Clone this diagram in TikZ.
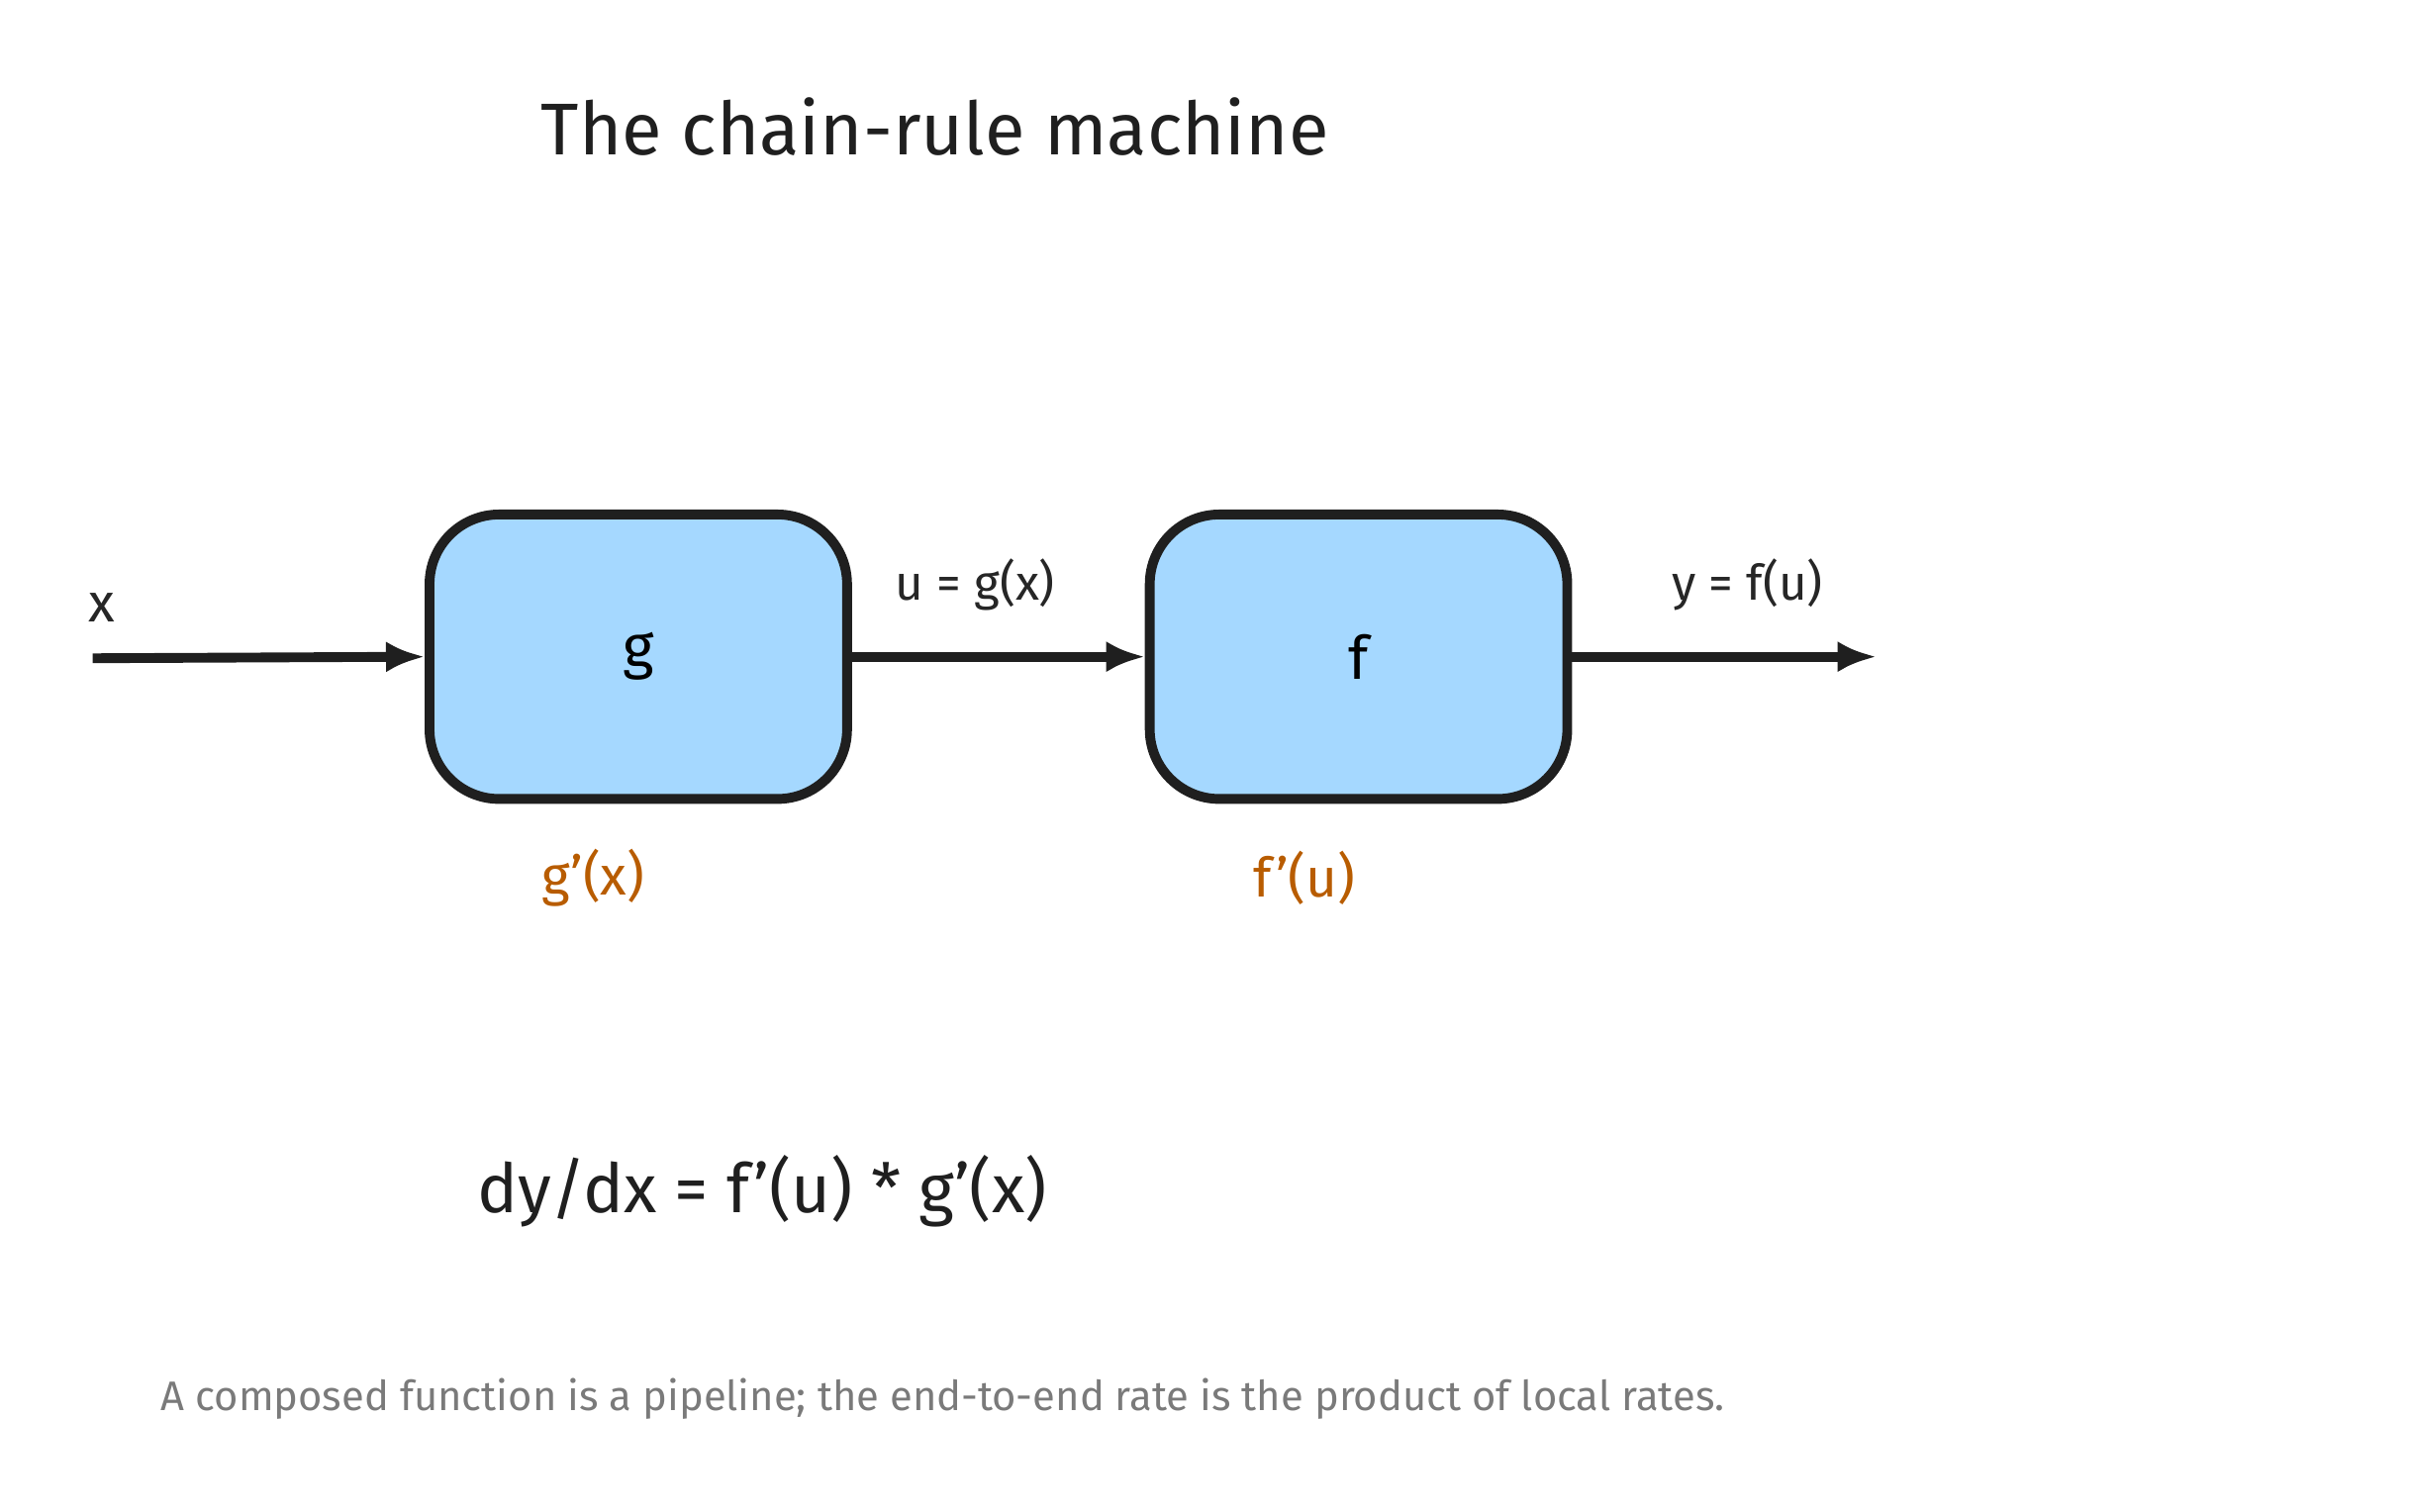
\documentclass[tikz,border=0pt]{standalone}
\usepackage{fontspec}
\setmainfont{Fira Sans}
\usetikzlibrary{positioning,arrows.meta}
\definecolor{boxblue}{HTML}{A5D8FF}
\definecolor{rateorange}{HTML}{B85C00}
\definecolor{notegray}{HTML}{7A7A7A}
\begin{document}
\begin{tikzpicture}[x=0.01cm,y=-0.01cm]
		\tikzstyle{machine} = [draw=black!88, line width=1.8pt, fill=boxblue, rounded corners=0.45cm, minimum width=2.7cm, minimum height=1.84cm, font=\fontsize{11}{13}\selectfont]
		\tikzstyle{flow} = [-{Latex[length=0.25cm,width=0.2cm]}, line width=1.8pt, draw=black!88]
		\tikzstyle{lbl} = [font=\fontsize{9}{11}\selectfont, text=black!85]
		\tikzstyle{rate} = [font=\fontsize{10}{12}\selectfont, text=rateorange]
	\useasboundingbox (0,0) rectangle (1560,978);
	% Titulo
		\node[font=\fontsize{13.5}{16}\selectfont, text=black!88] (title) at (605,82) {The chain-rule machine};
	% Nodos
		\node[machine] (g) at (413,425) {g};
		\node[machine] (f) at (879,425) {f};
		\coordinate (in) at (60,426);
		\coordinate (out) at (1214,425);
		\node[lbl, font=\fontsize{10}{12}\selectfont] (xlbl) at (66,393) {x};
		\node[rate] (gp) at (384,568) {g'(x)};
		\node[rate] (fp) at (844,568) {f'(u)};
	% Enlaces
		\draw[flow] (in) -- (g.west);
		\draw[flow] (g.east) -- (f.west) node[lbl, midway, above=0.15cm, xshift=-0.15cm] {u = g(x)};
		\draw[flow] (f.east) -- (out) node[lbl, midway, above=0.15cm, xshift=0.15cm] {y = f(u)};
	% Formula
		\node[font=\fontsize{12.5}{15}\selectfont, text=black!88] (rule) at (493,771) {dy/dx = f'(u) * g'(x)};
		\node[font=\fontsize{7.6}{9}\selectfont, text=notegray] (note) at (610,905) {A composed function is a pipeline; the end-to-end rate is the product of local rates.};
\end{tikzpicture}
\end{document}
